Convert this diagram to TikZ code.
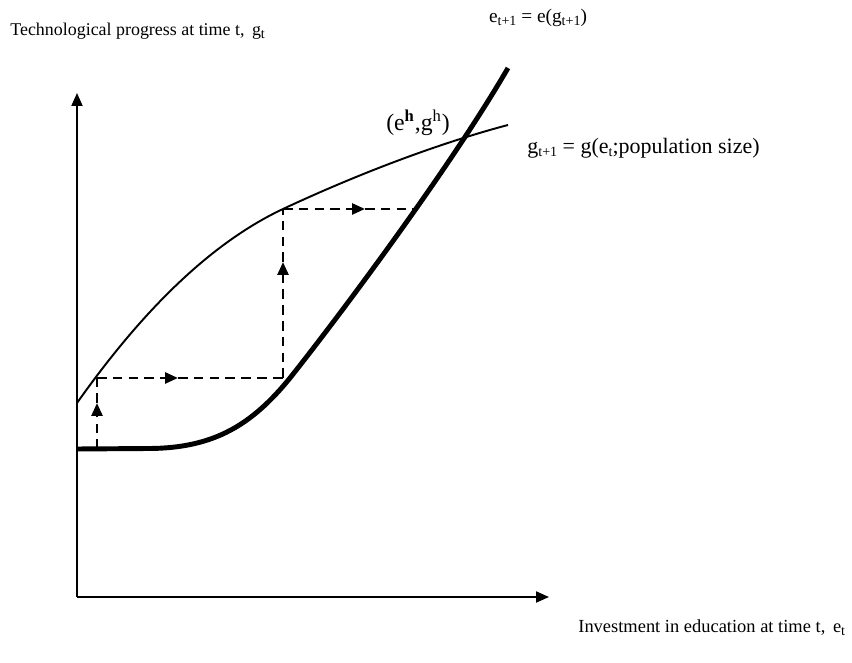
\documentclass[tikz,border=0pt]{standalone}
\usepackage{fontspec}
\setmainfont{Liberation Serif}
\usetikzlibrary{arrows.meta}
\newcommand{\sbs}[1]{\raisebox{-0.35ex}{\fontsize{8}{9}\selectfont #1}}

\begin{document}
\begin{tikzpicture}[
    axis/.style={line width=1.1pt, -{Triangle[length=2.6mm,width=2.2mm]}},
    gcurve/.style={line width=1.1pt},
    ecurve/.style={line width=2.8pt},
    path/.style={line width=1.5pt, dash pattern=on 5.5pt off 3.5pt},
    tip/.style={-{Triangle[length=2.6mm,width=2.2mm]}},
    lbl/.style={font=\fontsize{10.2}{12}\selectfont, inner sep=0pt}
  ]
  \useasboundingbox (0,0) rectangle (17.04,13.26);

  % axes
  \coordinate (O) at (1.54,1.32);
  \coordinate (ytop) at (1.54,11.40);
  \coordinate (xend) at (10.98,1.32);
  \draw[axis] (O) -- (ytop);
  \draw[axis] (O) -- (xend);

  % g curve (thin) and e curve (thick)
  \draw[gcurve] (1.54,5.20) .. controls (2.6,6.7) and (4.0,8.3) .. (5.66,9.08)
      .. controls (7.2,9.8) and (8.8,10.4) .. (10.16,10.76);
  \draw[ecurve, line join=round] (1.54,4.28) -- (3.0,4.29) .. controls (4.3,4.30) and (5.05,4.78) .. (5.80,5.70)
      .. controls (6.8,6.96) and (9.0,9.9) .. (10.16,11.90);

  % dynamics
  \coordinate (p0) at (1.94,4.28);
  \coordinate (p1) at (1.94,5.70);
  \coordinate (p2) at (5.66,5.70);
  \coordinate (p3) at (5.66,9.08);
  \coordinate (p4) at (8.36,9.08);
  \coordinate (a1) at (1.94,5.20);
  \coordinate (a2) at (3.56,5.70);
  \coordinate (a3) at (5.66,8.02);
  \coordinate (a4) at (7.30,9.08);
  \draw[path, tip] (p0) -- (a1);
  \draw[path] (a1) -- (p1);
  \draw[path, tip] (p1) -- (a2);
  \draw[path] (a2) -- (p2);
  \draw[path, tip] (p2) -- (a3);
  \draw[path] (a3) -- (p3);
  \draw[path, tip] (p3) -- (a4);
  \draw[path] (a4) -- (p4);

  % labels
  \node[lbl, anchor=west] (ylab) at (0.20,12.64) {Technological progress at time t,\, g\sbs{t}};
  \node[lbl, anchor=west, font=\fontsize{10.5}{12}\selectfont] (xlab) at (11.56,0.70) {Investment in education at time t,\, e\sbs{t}};
  \node[lbl, font=\fontsize{11}{12}\selectfont] (elab) at (10.76,12.90) {e\sbs{t+1} = e(g\sbs{t+1})};
  \node[lbl, anchor=west, font=\fontsize{12.5}{14}\selectfont] (glab) at (10.54,10.30) {g\sbs{t+1} = g(e\sbs{t};population size)};
  \node[lbl, font=\fontsize{13.5}{15}\selectfont] (hlab) at (8.36,10.80) {(e\textsuperscript{\textbf{h}},g\textsuperscript{h})};
\end{tikzpicture}
\end{document}
